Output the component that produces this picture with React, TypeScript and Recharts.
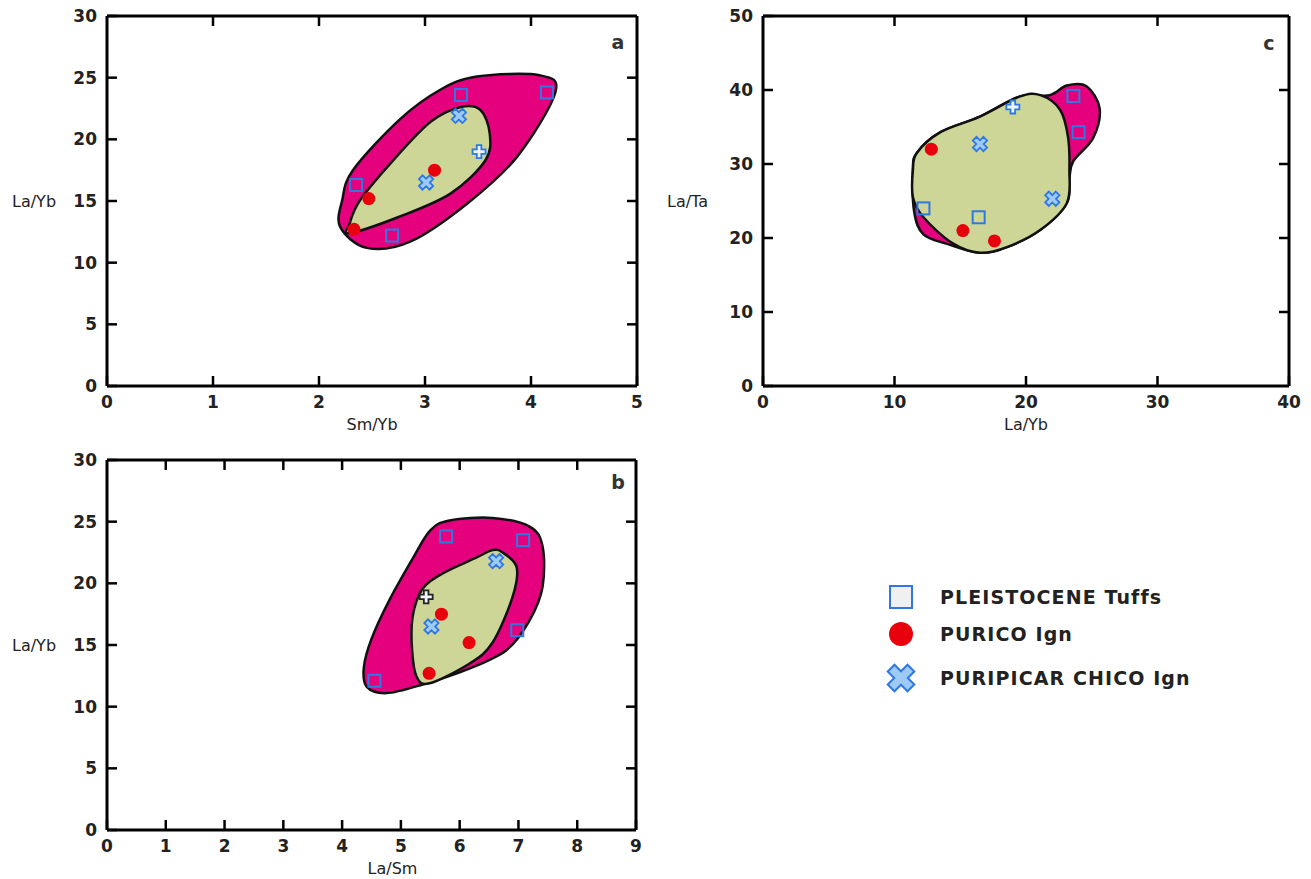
import React from 'react';
import { ScatterChart, Scatter, XAxis, YAxis } from 'recharts';

const FONT = '"DejaVu Sans", Arial, sans-serif';
const BLUE = '#2f78e4';
const MAGENTA = '#e5007d';
const GREEN = '#cdd697';

// panel a: Sm/Yb vs La/Yb
const aTuffs = [{ x: 2.35, y: 16.3 }, { x: 2.69, y: 12.2 }, { x: 3.34, y: 23.6 }, { x: 4.15, y: 23.8 }];
const aPurico = [{ x: 2.33, y: 12.7 }, { x: 2.47, y: 15.2 }, { x: 3.09, y: 17.5 }];
const aChico = [{ x: 3.32, y: 21.9 }, { x: 3.01, y: 16.5 }];
const aPlus = [{ x: 3.51, y: 19.0 }];
const aOuter = [
  { x: 2.2, y: 12.9 }, { x: 2.45, y: 11.2 }, { x: 2.86, y: 11.7 }, { x: 3.4, y: 14.8 },
  { x: 3.87, y: 18.6 }, { x: 4.23, y: 23.8 }, { x: 4.08, y: 25.2 }, { x: 3.49, y: 25.1 },
  { x: 3.14, y: 24.0 }, { x: 2.76, y: 21.6 }, { x: 2.32, y: 17.5 }, { x: 2.22, y: 15.1 },
];
const aInner = [
  { x: 2.29, y: 12.4 }, { x: 2.75, y: 13.7 }, { x: 3.24, y: 15.6 }, { x: 3.57, y: 18.3 },
  { x: 3.61, y: 20.5 }, { x: 3.52, y: 22.4 }, { x: 3.33, y: 22.6 }, { x: 3.05, y: 21.4 },
  { x: 2.7, y: 18.3 }, { x: 2.39, y: 15.1 }, { x: 2.29, y: 13.2 },
];

// panel b: La/Sm vs La/Yb
const bTuffs = [{ x: 5.77, y: 23.8 }, { x: 7.08, y: 23.5 }, { x: 6.98, y: 16.2 }, { x: 4.55, y: 12.1 }];
const bPurico = [{ x: 5.69, y: 17.5 }, { x: 6.16, y: 15.2 }, { x: 5.48, y: 12.7 }];
const bChico = [{ x: 6.62, y: 21.8 }, { x: 5.52, y: 16.5 }];
const bPlus = [{ x: 5.43, y: 18.9 }];
const bOuter = [
  { x: 5.83, y: 25.1 }, { x: 6.56, y: 25.3 }, { x: 7.19, y: 24.6 }, { x: 7.41, y: 23.0 },
  { x: 7.41, y: 19.7 }, { x: 7.19, y: 17.0 }, { x: 6.8, y: 14.6 }, { x: 6.12, y: 13.0 },
  { x: 5.37, y: 11.8 }, { x: 4.76, y: 11.1 }, { x: 4.42, y: 11.6 }, { x: 4.37, y: 13.2 },
  { x: 4.5, y: 15.5 }, { x: 4.8, y: 18.6 }, { x: 5.2, y: 22.0 }, { x: 5.5, y: 24.3 },
];
const bInner = [
  { x: 6.73, y: 22.5 }, { x: 6.97, y: 21.3 }, { x: 6.9, y: 18.9 }, { x: 6.56, y: 15.2 },
  { x: 6.17, y: 13.5 }, { x: 5.49, y: 11.9 }, { x: 5.27, y: 12.4 }, { x: 5.19, y: 14.6 },
  { x: 5.2, y: 17.3 }, { x: 5.36, y: 19.5 }, { x: 5.71, y: 20.8 }, { x: 6.29, y: 22.1 },
  { x: 6.56, y: 22.7 },
];

// panel c: La/Yb vs La/Ta
const cTuffs = [{ x: 23.6, y: 39.2 }, { x: 24.0, y: 34.3 }, { x: 12.2, y: 24.0 }, { x: 16.4, y: 22.8 }];
const cPurico = [{ x: 12.8, y: 32.0 }, { x: 15.2, y: 21.0 }, { x: 17.6, y: 19.6 }];
const cChico = [{ x: 16.5, y: 32.7 }, { x: 22.0, y: 25.3 }];
const cPlus = [{ x: 19.0, y: 37.7 }];
const cOuter = [
  { x: 11.4, y: 29.2 }, { x: 11.7, y: 31.5 }, { x: 13.5, y: 34.3 }, { x: 16.5, y: 36.4 },
  { x: 19.5, y: 39.1 }, { x: 21.8, y: 39.3 }, { x: 23.1, y: 40.6 }, { x: 24.6, y: 40.5 },
  { x: 25.6, y: 37.5 }, { x: 25.1, y: 33.5 }, { x: 23.6, y: 30.4 }, { x: 23.3, y: 28.0 },
  { x: 23.1, y: 24.7 }, { x: 21.1, y: 21.1 }, { x: 18.6, y: 18.8 }, { x: 16.5, y: 18.0 },
  { x: 14.0, y: 19.2 }, { x: 12.2, y: 20.5 }, { x: 11.5, y: 23.5 },
];
const cInner = [
  { x: 11.4, y: 29.2 }, { x: 11.7, y: 31.5 }, { x: 13.5, y: 34.3 }, { x: 16.5, y: 36.4 },
  { x: 19.5, y: 39.1 }, { x: 21.1, y: 39.3 }, { x: 22.6, y: 37.3 }, { x: 23.2, y: 33.6 },
  { x: 23.3, y: 29.2 }, { x: 23.1, y: 24.7 }, { x: 21.1, y: 21.1 }, { x: 18.6, y: 18.8 },
  { x: 16.5, y: 18.0 }, { x: 14.4, y: 19.3 }, { x: 12.2, y: 22.8 }, { x: 11.4, y: 25.5 },
];

const legendItems = ['PLEISTOCENE Tuffs', 'PURICO Ign', 'PURIPICAR CHICO Ign'];

// closed catmull-rom through the outline points
function closedPath(pts: { x: number; y: number }[]) {
  if (!pts || pts.length < 3) return '';
  const n = pts.length;
  let d = `M${pts[0].x},${pts[0].y}`;
  for (let i = 0; i < n; i++) {
    const p0 = pts[(i - 1 + n) % n];
    const p1 = pts[i];
    const p2 = pts[(i + 1) % n];
    const p3 = pts[(i + 2) % n];
    const c1x = p1.x + (p2.x - p0.x) / 6;
    const c1y = p1.y + (p2.y - p0.y) / 6;
    const c2x = p2.x - (p3.x - p1.x) / 6;
    const c2y = p2.y - (p3.y - p1.y) / 6;
    d += ` C${c1x},${c1y} ${c2x},${c2y} ${p2.x},${p2.y}`;
  }
  return d + ' Z';
}

function crossPoints(cx: number, cy: number, L: number, w: number, rot: number) {
  const base = [
    [-w, -L], [w, -L], [w, -w], [L, -w], [L, w], [w, w],
    [w, L], [-w, L], [-w, w], [-L, w], [-L, -w], [-w, -w],
  ];
  const c = Math.cos(rot), s = Math.sin(rot);
  return base.map(([x, y]) => `${cx + x * c - y * s},${cy + x * s + y * c}`).join(' ');
}

const blob = (fill: string) => (props: any) => (
  <path d={closedPath(props.points)} fill={fill} stroke="#111" strokeWidth={2.5} />
);
const noMark = () => <g />;
const noTick = () => <g />;
const SquareMark = (p: any) => (
  <rect x={p.cx - 6} y={p.cy - 6} width={12} height={12} fill="none" stroke={BLUE} strokeWidth={2} />
);
const CircleMark = (p: any) => <circle cx={p.cx} cy={p.cy} r={6.5} fill="#e8000c" />;
const XMark = (p: any) => (
  <polygon points={crossPoints(p.cx, p.cy, 7.5, 2.6, Math.PI / 4)} fill="#9ecbf5" stroke={BLUE} strokeWidth={1.8} />
);
const plusMark = (stroke: string) => (p: any) => (
  <polygon points={crossPoints(p.cx, p.cy, 6.5, 2.3, 0)} fill="#eef4fb" stroke={stroke} strokeWidth={1.8} />
);

const axisLine = { stroke: '#000', strokeWidth: 3 };
const tickLine = { stroke: '#000', strokeWidth: 2.5 };
const tickStyle = { fill: '#222', fontSize: 17, fontWeight: 'bold', fontFamily: FONT };
const labelStyle = { fill: '#222', fontSize: 16, fontFamily: FONT };

function Panel(p: any) {
  const m = { ...p.margin, top: p.margin.top - 1, right: p.margin.right - 1 };
  return (
    <div style={{ position: 'absolute', left: p.left, top: p.top }}>
      <ScatterChart width={p.width} height={p.height} margin={m}>
        <XAxis
          type="number" dataKey="x" domain={p.xDomain} ticks={p.xTicks} height={p.xHeight}
          tickSize={-10} tickMargin={20} axisLine={axisLine} tickLine={tickLine} tick={tickStyle}
          interval={0}
          label={{ value: p.xLabel, position: 'insideBottom', offset: p.xLabelOffset, dx: p.xLabelDx, ...labelStyle }}
        />
        <XAxis
          xAxisId="top" orientation="top" type="number" dataKey="x" domain={p.xDomain} ticks={p.xTicks.slice(1, -1)}
          height={1} tickSize={-10} tick={noTick} axisLine={axisLine} tickLine={tickLine} interval={0}
        />
        <YAxis
          type="number" dataKey="y" domain={p.yDomain} ticks={p.yTicks} width={p.yWidth}
          tickSize={-10} tickMargin={20} axisLine={axisLine} tickLine={tickLine} tick={tickStyle}
          interval={0}
          label={{ value: p.yLabel, position: 'insideLeft', offset: p.yLabelOffset, ...labelStyle }}
        />
        <YAxis
          yAxisId="right" orientation="right" type="number" dataKey="y" domain={p.yDomain} ticks={p.yTicks.slice(1, -1)}
          width={1} tickSize={-10} tick={noTick} axisLine={axisLine} tickLine={tickLine} interval={0}
        />
        <Scatter
          data={p.outer} xAxisId="top" yAxisId="right" shape={noMark} line={blob(MAGENTA)}
          isAnimationActive={false}
        />
        <Scatter data={p.inner} shape={noMark} line={blob(GREEN)} isAnimationActive={false} />
        <Scatter data={p.tuffs} shape={SquareMark} isAnimationActive={false} />
        <Scatter data={p.purico} shape={CircleMark} isAnimationActive={false} />
        <Scatter data={p.chico} shape={XMark} isAnimationActive={false} />
        <Scatter data={p.plus} shape={plusMark(p.plusStroke)} isAnimationActive={false} />
      </ScatterChart>
    </div>
  );
}

const letterStyle = (x: number, y: number): React.CSSProperties => ({
  position: 'absolute', left: x, top: y, transform: 'translate(-50%, -50%)',
  fontFamily: FONT, fontWeight: 'bold', fontSize: 19, color: '#333',
});

const legendRowY = [597, 634, 678];

export default function App() {
  return (
    <div style={{ position: 'absolute', left: 0, top: 0, width: 1311, height: 879, background: '#fff', fontFamily: FONT }}>
      <Panel
        left={0} top={0} width={660} height={440} margin={{ top: 16, right: 23, left: 0, bottom: 0 }}
        xHeight={54} yWidth={107} xDomain={[0, 5]} xTicks={[0, 1, 2, 3, 4, 5]}
        yDomain={[0, 30]} yTicks={[0, 5, 10, 15, 20, 25, 30]}
        xLabel="Sm/Yb" yLabel="La/Yb" xLabelOffset={10} xLabelDx={0} yLabelOffset={12}
        outer={aOuter} inner={aInner} tuffs={aTuffs} purico={aPurico} chico={aChico} plus={aPlus} plusStroke={BLUE}
      />
      <Panel
        left={660} top={0} width={651} height={440} margin={{ top: 16, right: 22, left: 0, bottom: 0 }}
        xHeight={54} yWidth={103} xDomain={[0, 40]} xTicks={[0, 10, 20, 30, 40]}
        yDomain={[0, 50]} yTicks={[0, 10, 20, 30, 40, 50]}
        xLabel="La/Yb" yLabel="La/Ta" xLabelOffset={10} xLabelDx={0} yLabelOffset={7}
        outer={cOuter} inner={cInner} tuffs={cTuffs} purico={cPurico} chico={cChico} plus={cPlus} plusStroke={BLUE}
      />
      <Panel
        left={0} top={440} width={660} height={439} margin={{ top: 20, right: 24, left: 0, bottom: 0 }}
        xHeight={49} yWidth={107} xDomain={[0, 9]} xTicks={[0, 1, 2, 3, 4, 5, 6, 7, 8, 9]}
        yDomain={[0, 30]} yTicks={[0, 5, 10, 15, 20, 25, 30]}
        xLabel="La/Sm" yLabel="La/Yb" xLabelOffset={5} xLabelDx={21} yLabelOffset={12}
        outer={bOuter} inner={bInner} tuffs={bTuffs} purico={bPurico} chico={bChico} plus={bPlus} plusStroke="#222"
      />
      <div style={letterStyle(618, 42)}>a</div>
      <div style={letterStyle(1269, 43)}>c</div>
      <div style={letterStyle(618, 482)}>b</div>
      {legendItems.map((name, i) => (
        <div
          key={name}
          style={{ position: 'absolute', left: 885, top: legendRowY[i] - 15, height: 30, display: 'flex', alignItems: 'center' }}
        >
          <svg width={32} height={30} style={{ overflow: 'visible' }}>
            {i === 0 && <rect x={5} y={4} width={22} height={22} fill="#f0f0f0" stroke={BLUE} strokeWidth={2} />}
            {i === 1 && <circle cx={16} cy={15} r={12} fill="#e8000c" />}
            {i === 2 && <polygon points={crossPoints(16, 15, 14, 4.8, Math.PI / 4)} fill="#9ecbf5" stroke={BLUE} strokeWidth={2} />}
          </svg>
          <span style={{ marginLeft: 23, fontSize: 19, fontWeight: 'bold', color: '#222', letterSpacing: 1.1, whiteSpace: 'nowrap' }}>
            {name}
          </span>
        </div>
      ))}
    </div>
  );
}
